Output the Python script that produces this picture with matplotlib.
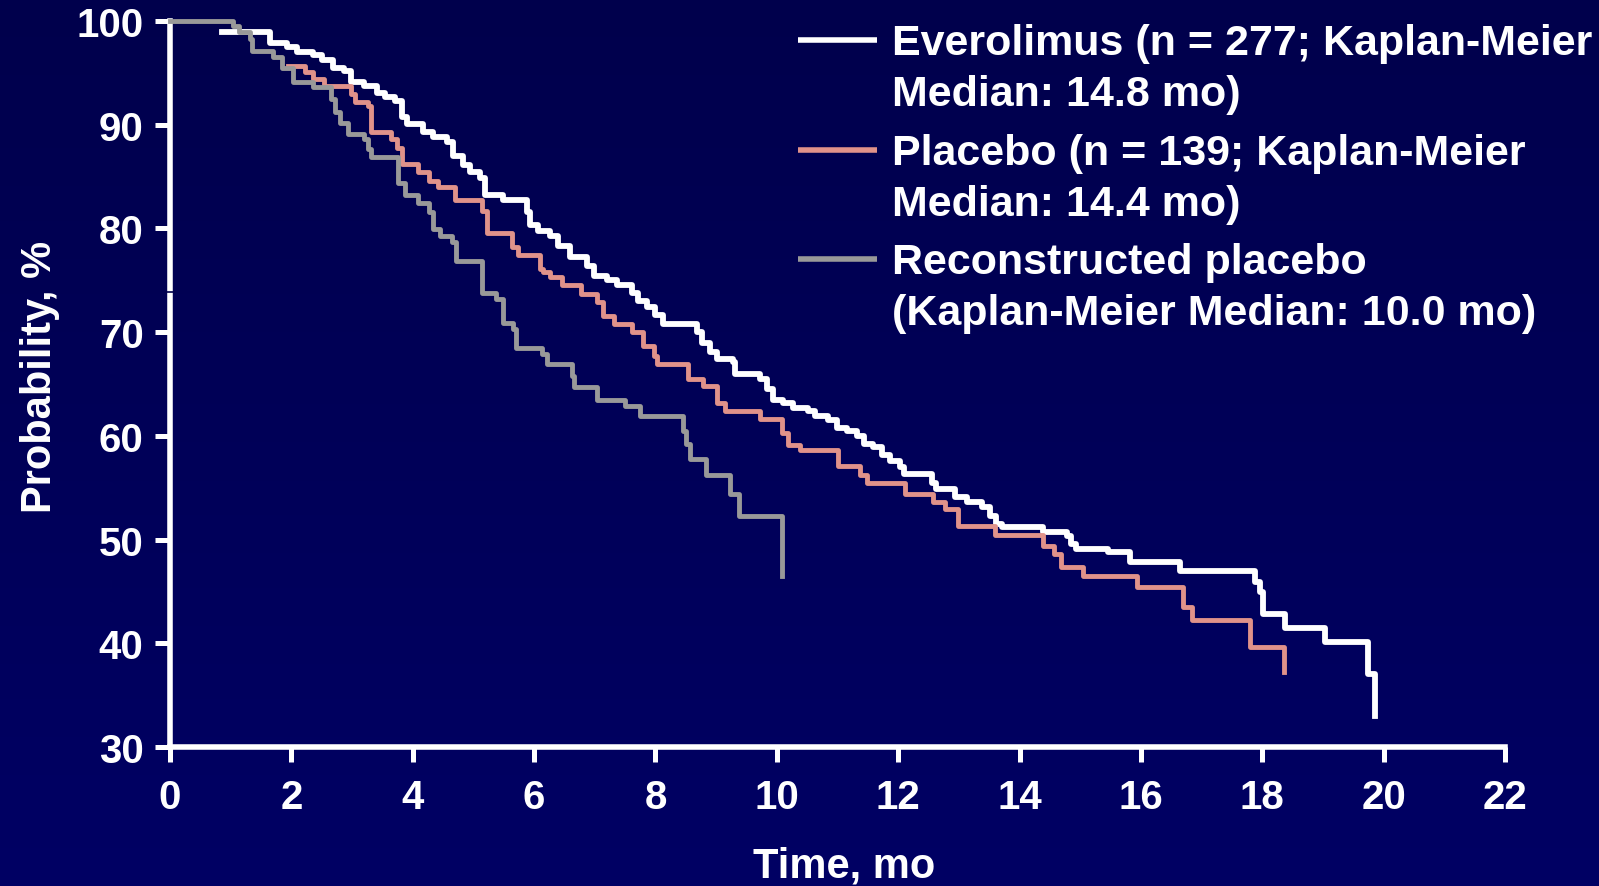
#! /usr/bin/env python

# Kaplan-Meier curves: Everolimus vs placebo vs reconstructed placebo
# Values (step curves, % vs months)

import numpy as np
import matplotlib
matplotlib.use('Agg')
import matplotlib.pyplot as plt
from matplotlib import font_manager
from matplotlib.colors import LinearSegmentedColormap
from matplotlib.lines import Line2D

# ----- Data ------------------------------------------------------------------------------
ever_t = [0.85, 1.65, 1.92, 2.09, 2.36, 2.50, 2.69, 2.86, 2.99, 3.19, 3.41, 3.54, 3.71, 3.82,
          3.90, 4.17, 4.34, 4.56, 4.67, 4.83, 4.94, 5.11, 5.19, 5.49, 5.88, 5.93, 6.07, 6.26,
          6.40, 6.59, 6.87, 6.98, 7.20, 7.36, 7.61, 7.72, 7.86, 7.99, 8.13, 8.68, 8.76, 8.90,
          9.01, 9.28, 9.31, 9.72, 9.83, 9.94, 10.11, 10.27, 10.52, 10.63, 10.85, 10.99, 11.15,
          11.32, 11.43, 11.59, 11.73, 11.87, 12.03, 12.09, 12.55, 12.63, 12.94, 13.13, 13.38,
          13.51, 13.62, 13.71, 14.39, 14.78, 14.84, 14.93, 15.46, 15.82, 16.64, 17.88, 17.96,
          18.02, 18.38, 19.03, 19.75, 19.86]
ever_s = [98.9, 97.9, 97.5, 97.0, 96.7, 96.2, 95.5, 95.2, 94.1, 93.7, 93.1, 92.7, 92.3, 90.7,
          90.1, 89.3, 88.8, 88.3, 87.0, 86.1, 85.4, 84.9, 83.2, 82.7, 81.6, 80.3, 79.8, 79.3,
          78.3, 77.2, 76.4, 75.4, 75.0, 74.5, 73.8, 73.0, 72.4, 71.7, 70.8, 70.0, 69.0, 68.1,
          67.4, 67.1, 66.0, 65.5, 64.5, 63.5, 63.2, 62.7, 62.4, 61.9, 61.5, 60.8, 60.5,
          60.0, 59.2, 58.9, 58.2, 57.6, 57.0, 56.3, 55.5, 54.9, 54.1, 53.6, 53.1,
          52.3, 51.5, 51.2, 50.7, 50.3, 49.6, 49.1, 48.8, 47.8, 47.0, 45.9, 44.9,
          42.8, 41.5, 40.1, 37.0, 33.0]

plac_t = [1.95, 2.22, 2.36, 2.53, 2.99, 3.05, 3.27, 3.31, 3.65, 3.74, 3.82, 4.09, 4.26, 4.42,
          4.70, 5.14, 5.22, 5.63, 5.74, 6.10, 6.15, 6.26, 6.46, 6.78, 7.03, 7.14, 7.31, 7.61,
          7.80, 7.97, 8.02, 8.54, 8.79, 9.01, 9.15, 9.72, 10.08, 10.19, 10.38, 11.01, 11.37,
          11.48, 12.11, 12.58, 12.77, 12.99, 13.60, 14.39, 14.56, 14.68, 15.05, 15.93, 16.70,
          16.84, 17.80, 18.35]
plac_s = [95.7, 95.1, 94.4, 93.7, 93.0, 92.2, 91.8, 89.3, 88.6, 87.8, 86.2, 85.4, 84.6, 84.0,
          82.7, 81.7, 79.6, 78.2, 77.4, 76.1, 75.8, 75.3, 74.5, 73.7, 72.9, 71.6, 70.8, 70.0,
          68.7, 67.7, 66.9, 65.5, 64.8, 63.2, 62.4, 61.6, 60.3, 59.1, 58.6, 57.1, 56.2,
          55.5, 54.4, 53.6, 52.9, 51.3, 50.4, 49.4, 48.6, 47.4, 46.5, 45.4, 43.5,
          42.2, 39.6, 37.2]

recon_t = [0, 1.04, 1.13, 1.32, 1.35, 1.70, 1.84, 2.03, 2.36, 2.66, 2.72, 2.80, 2.94, 3.19,
           3.27, 3.32, 3.76, 3.87, 4.09, 4.26, 4.34, 4.45, 4.64, 4.72, 5.14, 5.38, 5.49, 5.66,
           5.71, 6.13, 6.21, 6.62, 6.65, 7.03, 7.50, 7.75, 8.46, 8.51, 8.57, 8.84, 9.23, 9.37,
           10.08]
recon_s = [100, 99.5, 98.9, 98.3, 97.1, 96.5, 95.5, 94.1, 93.6, 92.5, 91.2, 90.2, 89.1, 88.6,
           87.7, 86.9, 84.4, 83.2, 82.5, 81.6, 79.9, 79.3, 78.7, 76.9, 73.8, 73.2, 70.9, 70.3,
           68.5, 67.9, 66.9, 65.8, 64.7, 63.5, 62.9, 61.9, 60.5, 59.2, 57.8, 56.2, 54.4, 52.3,
           46.5]

legend_labels = ['Everolimus (n = 277; Kaplan-Meier\nMedian: 14.8 mo)',
                 'Placebo (n = 139; Kaplan-Meier\nMedian: 14.4 mo)',
                 'Reconstructed placebo\n(Kaplan-Meier Median: 10.0 mo)']
xticks = np.arange(0, 23, 2)
yticks = np.arange(30, 101, 10)

# ----- Style -----------------------------------------------------------------------------
installed = {f.name for f in font_manager.fontManager.ttflist}
narrow = 'Liberation Sans Narrow' if 'Liberation Sans Narrow' in installed else 'Liberation Sans'
leg_size = 34 if narrow == 'Liberation Sans Narrow' else 31
plt.rcParams['font.family'] = ['Liberation Sans', 'DejaVu Sans']
plt.rcParams['font.weight'] = 'bold'

c_ever = 'white'
c_plac = '#E0928A'
c_recon = '#999999'

W, H = 1599, 887
fig = plt.figure(figsize=(W / 100., H / 100.), dpi=100)

# dark navy background, a touch lighter toward the bottom
bg = fig.add_axes([0, 0, 1, 1], zorder=-10)
grad = np.linspace(0, 1, 256).reshape(-1, 1)
bg.imshow(grad, aspect='auto', extent=[0, 1, 0, 1],
          cmap=LinearSegmentedColormap.from_list('bg', ['#00004C', '#000064']))
bg.axis('off')

ax = fig.add_axes([170. / W, 1 - 748. / H, 1335. / W, 726. / H])
ax.set_facecolor('none')

ax.step(ever_t, ever_s, where='post', color=c_ever, lw=4.2, clip_on=False, zorder=3)
ax.step(plac_t, plac_s, where='post', color=c_plac, lw=3.5, clip_on=False, zorder=4)
ax.step(recon_t, recon_s, where='post', color=c_recon, lw=3.5, clip_on=False, zorder=5)

ax.set_xlim(0, 22)
ax.set_ylim(30, 100)
ax.set_xticks(xticks)
ax.set_yticks(yticks)

for s in ['top', 'right']:
    ax.spines[s].set_visible(False)
for s in ['left', 'bottom']:
    ax.spines[s].set_color('white')
    ax.spines[s].set_linewidth(4)

ax.tick_params(direction='out', length=11, width=3.6, color='white',
               labelcolor='white', labelsize=29)
ax.tick_params(axis='x', pad=11)
ax.tick_params(axis='y', pad=8)

# little gap mark on the y axis
ax.plot([-0.004, 0.004], [73.9, 73.9], transform=ax.get_yaxis_transform(),
        color='#00004C', lw=1.2, clip_on=False, zorder=10)

ax.set_xlabel('Time, mo', fontsize=30, color='white', fontweight='bold')
ax.set_ylabel('Probability, %', fontsize=30, color='white', fontweight='bold')
ax.xaxis.set_label_coords(0.505, -0.136)
ax.yaxis.set_label_coords(-0.0824, 0.511)

# ----- Legend (hand placed, line next to first text row) ---------------------------------
leg_y = [41, 151, 260]
for lab, col, y in zip(legend_labels, [c_ever, c_plac, c_recon], leg_y):
    fig.add_artist(Line2D([798. / W, 877. / W], [1 - y / float(H)] * 2,
                          color=col, lw=4.0, solid_capstyle='butt'))
    fig.text(892. / W, 1 - (y + 28.5) / H, lab, fontsize=leg_size, color='white',
             fontweight='bold', family=[narrow, 'DejaVu Sans'],
             va='center', ha='left', linespacing=1.36)

fig.savefig('out.png', dpi=100)
